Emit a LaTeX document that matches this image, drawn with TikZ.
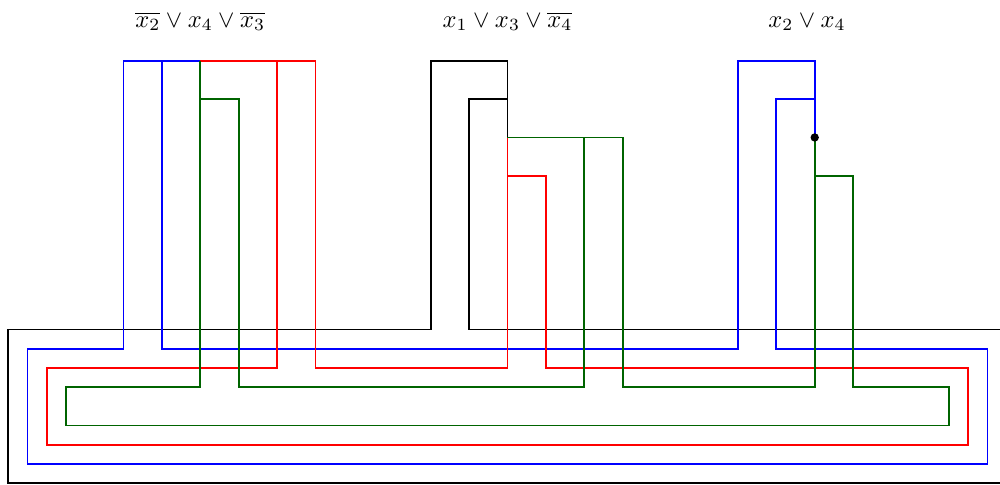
\documentclass[tikz,border=0pt]{standalone}
\usepackage{amsmath}
\usepackage{tikz}
\usepackage{xcolor}
\definecolor{gdblue}{HTML}{0000FF}
\definecolor{gdred}{HTML}{FF0000}
\definecolor{gdgreen}{HTML}{006400}
\definecolor{gdink}{HTML}{000000}
\tikzset{
  gdwire/.style={line width=0.75pt, line join=miter},
  gdblack/.style={gdwire, draw=gdink},
  gdblueline/.style={gdwire, draw=gdblue},
  gdredline/.style={gdwire, draw=gdred},
  gdgreenline/.style={gdwire, draw=gdgreen},
  gdlabel/.style={anchor=base, inner sep=0pt},
  gddot/.style={fill=gdink}
}
\begin{document}
\begin{tikzpicture}[x=0.275cm, y=0.275cm]
\useasboundingbox (-0.43,-0.05) rectangle (51.65,25.16);
% clause junctions
\coordinate (ja) at (10,22);
\coordinate (jb) at (26,18);
\coordinate (jc) at (42,18);
% clause labels
\node[gdlabel] (cla) at (10,23.75) {$\overline{x_2} \vee x_4 \vee \overline{x_3}$};
\node[gdlabel] (clb) at (26,23.75) {$x_1 \vee x_3 \vee \overline{x_4}$};
\node[gdlabel] (clc) at (41.6,23.75) {$x_2 \vee x_4$};
% black frame
\draw[gdblack] (jb) -- (26,22) -- (22,22) -- (22,8) -- (0,8) -- (0,0) -- (53,0);
\draw[gdblack] (jb) -- (26,20) -- (24,20) -- (24,8) -- (53,8);
% blue loop
\draw[gdblueline] (ja) -- (6,22) -- (6,7) -- (1,7) -- (1,1) -- (51,1) -- (51,7) -- (40,7) -- (40,20) -- (42,20) -- (jc);
\draw[gdblueline] (ja) -- (8,22) -- (8,7) -- (38,7) -- (38,22) -- (42,22) -- (jc);
% red loop
\draw[gdredline] (ja) -- (14,22) -- (14,6) -- (2,6) -- (2,2) -- (50,2) -- (50,6) -- (28,6) -- (28,16) -- (26,16) -- (jb);
\draw[gdredline] (ja) -- (16,22) -- (16,6) -- (26,6) -- (jb);
% green loop
\draw[gdgreenline] (ja) -- (10,5) -- (3,5) -- (3,3) -- (49,3) -- (49,5) -- (44,5) -- (44,16) -- (42,16) -- (jc);
\draw[gdgreenline] (ja) -- (10,20) -- (12,20) -- (12,5) -- (30,5) -- (30,18) -- (jb);
\draw[gdgreenline] (jb) -- (32,18) -- (32,5) -- (42,5) -- (jc);
\fill[gddot] (jc) circle (1.7pt);
\end{tikzpicture}
\end{document}
